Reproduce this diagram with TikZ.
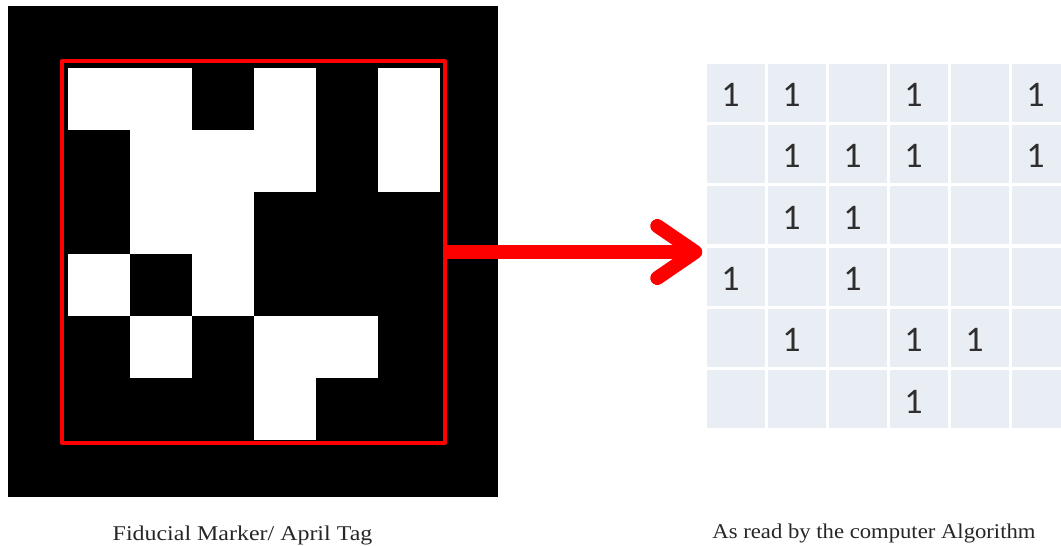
\documentclass[tikz,border=0pt]{standalone}
\usepackage{fontspec}
\setmainfont{Liberation Serif}
\newfontfamily\carlito{Carlito}
\usetikzlibrary{arrows.meta,positioning}

\definecolor{tblue}{HTML}{E9EDF4}
\definecolor{tgray}{HTML}{2E2E2E}
\newcommand\tagbits{1/1,1/2,1/4,1/6,2/2,2/3,2/4,2/6,3/2,3/3,4/1,4/3,5/2,5/4,5/5,6/4}

\tikzset{
  tcell/.style={fill=tblue, minimum width=58pt, minimum height=58pt, inner sep=0pt},
  digit/.style={font=\carlito\fontsize{36}{36}\selectfont, text=tgray, inner sep=0pt},
  caption/.style={font=\fontsize{21}{21}\selectfont, text=black!85, anchor=base, inner sep=0pt, transform shape}
}

\begin{document}
\begin{tikzpicture}[x=1pt, y=-1pt, line join=round, line cap=round]
    \useasboundingbox (0,0) rectangle (1061,546);
    % the tag
    \fill (8,6) rectangle (498,497);
    \foreach \r/\c in \tagbits
      \fill[white] ({68+62*(\c-1)},{68+62*(\r-1)}) rectangle ++(62,62);
    \node[draw=red, line width=4pt, minimum width=383pt, minimum height=382pt, inner sep=0pt] (frame) at (253.5,252) {};
    % the table
    \foreach \r in {1,...,6}
      \foreach \c in {1,...,6}
        \node[tcell] (t\r\c) at ({735.5+61*(\c-1)},{92.6+61.3*(\r-1)}) {};
    \foreach \r/\c in \tagbits
      \node[digit] at ([xshift=-5pt, yshift=-2.5pt]t\r\c.center) {1};
    \draw[red, line width=14pt, line cap=butt, shorten >=4pt,
      -{Straight Barb[length=38pt, width=52pt, round]}] (frame.east) -- (frame.east -| t41.west);
    \node[caption, xscale=1.14] (captag) at (242.5,540) {Fiducial Marker/ April Tag};
    \node[caption, xscale=1.08] (capread) at (874,538) {As read by the computer Algorithm};
  \end{tikzpicture}
\end{document}
